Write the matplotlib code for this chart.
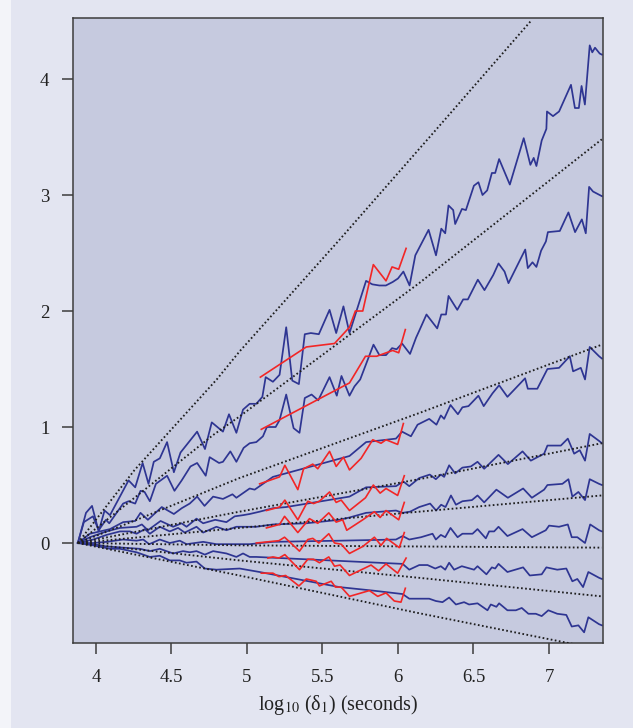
import matplotlib
matplotlib.use("Agg")
import matplotlib.pyplot as plt
from matplotlib.patches import Rectangle

plt.rcParams["font.family"] = ["Liberation Serif", "DejaVu Serif"]
plt.rcParams["mathtext.fontset"] = "stix"

x1 = [3.88, 3.934, 3.974, 4.018, 4.057, 4.093, 4.216, 4.260, 4.309, 4.348, 4.383, 4.423, 4.471, 4.516,
      4.560, 4.670, 4.722, 4.767, 4.841, 4.881, 4.930, 4.974, 5.018, 5.062, 5.102, 5.124, 5.172, 5.216,
      5.260, 5.300, 5.344, 5.383, 5.423, 5.476, 5.547, 5.591, 5.639, 5.679, 5.789, 5.830, 5.877, 5.920,
      5.965, 6.000, 6.036, 6.077, 6.115, 6.163, 6.203, 6.252, 6.287, 6.313, 6.335, 6.366, 6.379, 6.424,
      6.450, 6.503, 6.533, 6.560, 6.591, 6.622, 6.644, 6.670, 6.741, 6.833, 6.877, 6.899, 6.917, 6.952,
      6.983, 6.987, 7.027, 7.067, 7.146, 7.172, 7.198, 7.216, 7.238, 7.270, 7.287, 7.305, 7.336, 7.351]
y1 = [0.0, 0.26, 0.32, 0.10, 0.28, 0.24, 0.54, 0.48, 0.69, 0.51, 0.70, 0.73, 0.87, 0.61,
      0.78, 0.96, 0.81, 1.04, 0.96, 1.11, 0.95, 1.15, 1.20, 1.20, 1.26, 1.43, 1.39, 1.45,
      1.86, 1.40, 1.37, 1.80, 1.81, 1.80, 2.01, 1.81, 2.04, 1.81, 2.26, 2.23, 2.22, 2.22,
      2.25, 2.28, 2.34, 2.22, 2.48, 2.60, 2.70, 2.48, 2.71, 2.67, 2.91, 2.87, 2.75, 2.88,
      2.87, 3.08, 3.11, 3.00, 3.04, 3.19, 3.19, 3.31, 3.09, 3.49, 3.26, 3.32, 3.25, 3.47,
      3.57, 3.72, 3.68, 3.72, 3.95, 3.75, 3.75, 3.94, 3.78, 4.29, 4.23, 4.27, 4.22, 4.21]

x2 = [3.88, 3.92, 3.98, 4.018, 4.066, 4.088, 4.180, 4.216, 4.260, 4.295, 4.322, 4.357, 4.397, 4.471,
      4.520, 4.568, 4.626, 4.670, 4.727, 4.753, 4.815, 4.841, 4.890, 4.930, 4.978, 5.018, 5.062, 5.106,
      5.132, 5.190, 5.216, 5.260, 5.309, 5.348, 5.383, 5.428, 5.472, 5.547, 5.595, 5.626, 5.679, 5.712,
      5.750, 5.838, 5.877, 5.921, 5.961, 5.991, 6.027, 6.080, 6.120, 6.141, 6.189, 6.260, 6.287, 6.318,
      6.335, 6.393, 6.432, 6.463, 6.529, 6.573, 6.631, 6.666, 6.706, 6.732, 6.843, 6.860, 6.891, 6.917,
      6.948, 6.980, 6.993, 7.072, 7.129, 7.173, 7.218, 7.244, 7.266, 7.292, 7.336, 7.351]
y2 = [0.0, 0.18, 0.23, 0.11, 0.20, 0.17, 0.34, 0.36, 0.34, 0.45, 0.44, 0.36, 0.51, 0.58,
      0.45, 0.54, 0.66, 0.69, 0.58, 0.74, 0.69, 0.70, 0.79, 0.70, 0.82, 0.86, 0.87, 0.92,
      1.00, 1.00, 1.06, 1.28, 0.99, 0.95, 1.25, 1.28, 1.23, 1.43, 1.27, 1.44, 1.27, 1.35,
      1.41, 1.71, 1.62, 1.62, 1.68, 1.67, 1.72, 1.63, 1.77, 1.83, 1.97, 1.85, 1.97, 1.97,
      2.13, 2.01, 2.10, 2.10, 2.27, 2.18, 2.31, 2.41, 2.34, 2.24, 2.53, 2.37, 2.42, 2.38,
      2.52, 2.60, 2.68, 2.69, 2.85, 2.68, 2.79, 2.67, 3.07, 3.03, 3.00, 2.99]

x3 = [3.88, 3.96, 4.093, 4.180, 4.260, 4.295, 4.344, 4.436, 4.516, 4.568, 4.621, 4.670, 4.719, 4.776,
      4.841, 4.904, 4.930, 5.018, 5.051, 5.172, 5.679, 5.789, 5.987, 6.027, 6.086, 6.130, 6.207, 6.255,
      6.284, 6.306, 6.348, 6.397, 6.427, 6.467, 6.533, 6.568, 6.626, 6.670, 6.725, 6.842, 6.860, 6.923,
      6.990, 7.067, 7.138, 7.160, 7.211, 7.239, 7.270, 7.332, 7.351]
y3 = [0.0, 0.08, 0.12, 0.18, 0.19, 0.26, 0.20, 0.31, 0.25, 0.30, 0.34, 0.40, 0.32, 0.40,
      0.38, 0.42, 0.39, 0.47, 0.46, 0.57, 0.75, 0.87, 0.90, 0.96, 0.92, 1.02, 1.07, 1.02,
      1.10, 1.07, 1.19, 1.11, 1.17, 1.18, 1.27, 1.18, 1.29, 1.36, 1.26, 1.42, 1.33, 1.33,
      1.50, 1.51, 1.61, 1.48, 1.51, 1.41, 1.69, 1.61, 1.59]

x4 = [3.88, 3.96, 4.070, 4.159, 4.269, 4.304, 4.344, 4.428, 4.511, 4.567, 4.600, 4.666, 4.710, 4.790,
      4.864, 4.919, 4.974, 5.018, 5.084, 5.172, 5.260, 5.679, 5.789, 5.987, 6.036, 6.075, 6.141, 6.211,
      6.251, 6.284, 6.306, 6.339, 6.379, 6.427, 6.483, 6.527, 6.571, 6.666, 6.728, 6.825, 6.880, 6.968,
      6.990, 7.079, 7.125, 7.167, 7.204, 7.239, 7.270, 7.332, 7.351]
y4 = [0.0, 0.05, 0.10, 0.13, 0.14, 0.16, 0.11, 0.19, 0.14, 0.17, 0.14, 0.21, 0.17, 0.20,
      0.18, 0.23, 0.24, 0.25, 0.27, 0.30, 0.31, 0.40, 0.48, 0.49, 0.53, 0.49, 0.56, 0.59,
      0.55, 0.59, 0.57, 0.67, 0.60, 0.65, 0.66, 0.70, 0.64, 0.76, 0.68, 0.79, 0.71, 0.77,
      0.84, 0.84, 0.90, 0.77, 0.80, 0.71, 0.94, 0.88, 0.86]

x5 = [3.88, 3.982, 4.070, 4.159, 4.225, 4.269, 4.324, 4.357, 4.423, 4.489, 4.544, 4.588, 4.666, 4.710,
      4.798, 4.864, 4.930, 5.018, 5.062, 5.172, 5.392, 5.612, 5.679, 5.789, 5.987, 6.031, 6.080, 6.141,
      6.213, 6.253, 6.286, 6.315, 6.351, 6.384, 6.427, 6.490, 6.527, 6.571, 6.652, 6.728, 6.829, 6.887,
      6.968, 6.990, 7.089, 7.129, 7.155, 7.195, 7.239, 7.270, 7.332, 7.351]
y5 = [0.0, 0.03, 0.07, 0.10, 0.10, 0.08, 0.12, 0.08, 0.14, 0.10, 0.13, 0.09, 0.14, 0.09,
      0.14, 0.11, 0.14, 0.14, 0.14, 0.16, 0.17, 0.20, 0.22, 0.26, 0.28, 0.26, 0.27, 0.31,
      0.34, 0.28, 0.33, 0.31, 0.41, 0.33, 0.36, 0.37, 0.41, 0.35, 0.46, 0.39, 0.47, 0.39,
      0.46, 0.50, 0.51, 0.55, 0.40, 0.44, 0.37, 0.55, 0.51, 0.50]

x6 = [3.88, 3.982, 4.070, 4.180, 4.269, 4.313, 4.353, 4.423, 4.489, 4.555, 4.600, 4.710, 4.798, 4.930,
      5.018, 5.172, 5.612, 5.987, 6.031, 6.075, 6.153, 6.229, 6.251, 6.284, 6.313, 6.348, 6.395, 6.427,
      6.494, 6.527, 6.582, 6.604, 6.637, 6.666, 6.725, 6.825, 6.887, 6.979, 7.001, 7.067, 7.125, 7.151,
      7.188, 7.239, 7.273, 7.332, 7.351]
y6 = [0.0, 0.0, 0.01, 0.03, 0.02, 0.03, -0.01, 0.03, 0.0, 0.02, -0.01, 0.01, -0.01, -0.01,
      -0.01, 0.01, 0.02, 0.03, 0.06, 0.03, 0.05, 0.08, 0.03, 0.07, 0.05, 0.13, 0.05, 0.08,
      0.08, 0.12, 0.04, 0.10, 0.10, 0.14, 0.06, 0.12, 0.05, 0.11, 0.15, 0.14, 0.16, 0.05,
      0.05, 0.00, 0.16, 0.11, 0.10]

x7 = [3.88, 3.982, 4.070, 4.180, 4.291, 4.357, 4.423, 4.511, 4.577, 4.621, 4.666, 4.721, 4.776, 4.864,
      4.930, 4.974, 5.018, 5.062, 6.031, 6.075, 6.141, 6.196, 6.247, 6.284, 6.313, 6.339, 6.372, 6.423,
      6.504, 6.527, 6.586, 6.622, 6.644, 6.666, 6.725, 6.829, 6.873, 6.952, 6.983, 7.055, 7.115, 7.155,
      7.188, 7.226, 7.261, 7.332, 7.351]
y7 = [0.0, -0.01, -0.03, -0.04, -0.05, -0.07, -0.05, -0.09, -0.07, -0.08, -0.07, -0.10, -0.07, -0.09,
      -0.12, -0.09, -0.12, -0.12, -0.18, -0.23, -0.19, -0.19, -0.22, -0.20, -0.23, -0.17, -0.23, -0.20,
      -0.23, -0.20, -0.27, -0.21, -0.22, -0.18, -0.25, -0.21, -0.28, -0.27, -0.21, -0.23, -0.22, -0.33,
      -0.31, -0.38, -0.25, -0.30, -0.31]

x8 = [3.88, 3.982, 4.093, 4.159, 4.269, 4.357, 4.423, 4.489, 4.555, 4.600, 4.666, 4.721, 4.798, 4.952,
      5.084, 5.612, 5.833, 6.031, 6.075, 6.141, 6.207, 6.251, 6.295, 6.339, 6.384, 6.438, 6.471, 6.527,
      6.593, 6.615, 6.652, 6.670, 6.725, 6.781, 6.820, 6.864, 6.913, 6.952, 6.996, 7.055, 7.115, 7.151,
      7.195, 7.233, 7.261, 7.332, 7.351]
y8 = [0.0, -0.02, -0.05, -0.05, -0.08, -0.12, -0.11, -0.15, -0.15, -0.17, -0.16, -0.22, -0.23, -0.22,
      -0.25, -0.38, -0.41, -0.44, -0.48, -0.48, -0.48, -0.50, -0.51, -0.47, -0.53, -0.51, -0.53, -0.52,
      -0.58, -0.53, -0.55, -0.52, -0.58, -0.58, -0.56, -0.61, -0.61, -0.63, -0.58, -0.61, -0.62, -0.72,
      -0.71, -0.77, -0.64, -0.70, -0.71]

# red curves
rx1 = [5.089, 5.393, 5.580, 5.679, 5.718, 5.767, 5.837, 5.921, 5.961, 6.005, 6.054]
ry1 = [1.43, 1.69, 1.72, 1.86, 2.00, 2.00, 2.40, 2.26, 2.38, 2.36, 2.54]
rx2 = [5.095, 5.679, 5.785, 5.859, 5.965, 6.005, 6.049]
ry2 = [0.98, 1.38, 1.61, 1.61, 1.66, 1.64, 1.84]
rx3 = [5.084, 5.216, 5.251, 5.337, 5.375, 5.436, 5.469, 5.547, 5.591, 5.639, 5.679, 5.756, 5.833,
       5.888, 5.921, 5.998, 6.036]
ry3 = [0.51, 0.57, 0.67, 0.46, 0.64, 0.68, 0.64, 0.79, 0.66, 0.74, 0.63, 0.73, 0.89,
       0.86, 0.89, 0.85, 1.03]
rx4 = [5.129, 5.216, 5.251, 5.337, 5.403, 5.441, 5.480, 5.547, 5.591, 5.624, 5.679, 5.785, 5.837,
       5.882, 5.921, 5.998, 6.042]
ry4 = [0.28, 0.31, 0.37, 0.20, 0.36, 0.34, 0.36, 0.44, 0.35, 0.37, 0.28, 0.39, 0.50,
       0.43, 0.47, 0.41, 0.58]
rx5 = [5.129, 5.216, 5.249, 5.337, 5.414, 5.469, 5.542, 5.591, 5.634, 5.661, 5.767, 5.844, 5.882,
       5.921, 6.005, 6.042]
ry5 = [0.13, 0.16, 0.23, 0.09, 0.21, 0.17, 0.26, 0.18, 0.20, 0.11, 0.20, 0.27, 0.22,
       0.28, 0.20, 0.35]
rx6 = [5.062, 5.212, 5.249, 5.348, 5.403, 5.436, 5.476, 5.542, 5.580, 5.624, 5.679, 5.767, 5.844,
       5.888, 5.925, 6.009, 6.042]
ry6 = [0.0, 0.02, 0.05, -0.07, 0.03, 0.04, 0.0, 0.08, 0.0, -0.01, -0.09, -0.03, 0.05,
       -0.02, 0.04, -0.04, 0.09]
rx7 = [5.139, 5.172, 5.212, 5.251, 5.348, 5.403, 5.441, 5.480, 5.542, 5.580, 5.617, 5.679, 5.822,
       5.872, 5.921, 5.998, 6.054]
ry7 = [-0.13, -0.12, -0.13, -0.10, -0.23, -0.14, -0.14, -0.17, -0.12, -0.20, -0.19, -0.28, -0.19,
       -0.24, -0.18, -0.26, -0.13]
rx8 = [5.095, 5.172, 5.212, 5.256, 5.344, 5.393, 5.459, 5.480, 5.558, 5.586, 5.624, 5.679, 5.811,
       5.866, 5.921, 5.976, 6.020, 6.049]
ry8 = [-0.26, -0.26, -0.29, -0.28, -0.37, -0.31, -0.33, -0.37, -0.33, -0.38, -0.38, -0.46, -0.41,
       -0.46, -0.43, -0.50, -0.51, -0.39]

# dotted reference curves
dx1 = [3.88, 4.256, 4.80, 4.95, 5.61, 6.21, 6.88]
dy1 = [0.0, 0.63, 1.41, 1.65, 2.61, 3.50, 4.50]
dx2 = [3.88, 4.775, 4.95, 6.14, 7.35]
dy2 = [0.0, 0.93, 1.09, 2.24, 3.48]
dx3 = [3.88, 4.27, 4.95, 6.14, 7.35]
dy3 = [0.0, 0.20, 0.56, 1.12, 1.71]
dx4 = [3.88, 4.95, 6.14, 7.35]
dy4 = [0.0, 0.27, 0.55, 0.86]
dx5 = [3.88, 4.95, 6.14, 7.35]
dy5 = [0.0, 0.13, 0.27, 0.41]
dx6 = [3.88, 4.95, 6.14, 7.35]
dy6 = [0.0, -0.02, -0.03, -0.04]
dx7 = [3.88, 4.95, 6.14, 7.35]
dy7 = [0.0, -0.15, -0.30, -0.46]
dx8 = [3.88, 4.95, 6.12, 7.35]
dy8 = [0.0, -0.28, -0.60, -0.92]

blue = [(x1, y1), (x2, y2), (x3, y3), (x4, y4), (x5, y5), (x6, y6), (x7, y7), (x8, y8)]
red = [(rx1, ry1), (rx2, ry2), (rx3, ry3), (rx4, ry4), (rx5, ry5), (rx6, ry6), (rx7, ry7), (rx8, ry8)]
dotted = [(dx1, dy1), (dx2, dy2), (dx3, dy3), (dx4, dy4), (dx5, dy5), (dx6, dy6), (dx7, dy7), (dx8, dy8)]

fig = plt.figure(figsize=(6.33, 7.28), dpi=100, facecolor="#e3e5f1")
fig.patches.append(Rectangle((0, 0), 11 / 633, 1, transform=fig.transFigure,
                             facecolor="#f3f4f9", edgecolor="none", zorder=0))
ax = fig.add_axes([73 / 633, 1 - 643 / 728, 530 / 633, 625 / 728])
ax.set_facecolor("#c6cadf")

for xs, ys in blue:
    ax.plot(xs, ys, color="#2e3592", lw=1.25, zorder=2)
for xs, ys in dotted:
    ax.plot(xs, ys, color="#1e1e1e", lw=1.35, linestyle=(0, (0.9, 1.3)), zorder=3)
for xs, ys in red:
    ax.plot(xs, ys, color="#f22626", lw=1.2, zorder=4)

ax.set_xlim(3.848, 7.358)
ax.set_ylim(-0.862, 4.526)
ax.set_xticks([4, 4.5, 5, 5.5, 6, 6.5, 7])
ax.set_xticklabels(["4", "4.5", "5", "5.5", "6", "6.5", "7"])
ax.set_yticks([0, 1, 2, 3, 4])
for side in ax.spines.values():
    side.set_color("#3c3c3c")
    side.set_linewidth(1.1)
ax.tick_params(axis="both", direction="out", length=8, width=1.1, color="#3c3c3c",
               labelsize=13.5, labelcolor="#222222")
ax.tick_params(axis="y", pad=9)
ax.tick_params(axis="x", pad=11)
ax.set_xlabel(r"log$_{10}$ (δ$_1$) (seconds)", fontsize=14.5, color="#222222", labelpad=5)

fig.savefig("out.png", dpi=100, facecolor=fig.get_facecolor())
